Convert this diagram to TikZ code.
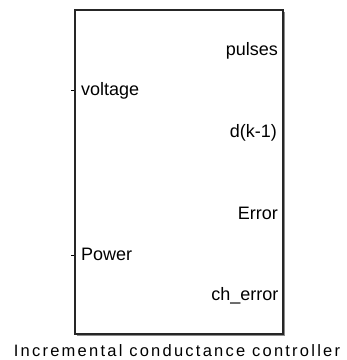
\documentclass[tikz,border=0pt]{standalone}
\usepackage{fontspec}
\setmainfont{Liberation Sans}
\newfontfamily\labfont[LetterSpace=13.6]{Liberation Sans}
\begin{document}
\begin{tikzpicture}[x=1pt,y=-1pt,
  port/.style={font=\fontsize{18}{20}\selectfont, inner sep=0pt},
  blockbox/.style={draw=black!85, line width=1.3pt, minimum width=208pt, minimum height=324pt, inner sep=0pt},
  tick/.style={line width=1pt}]
\useasboundingbox (0,0) rectangle (347,360);
% shadow
\draw[black!45, line width=1pt] (77,335.5) -- (284.5,335.5) -- (284.5,12);
\node[blockbox] (blk) at (179,172) {};
% input ticks
\coordinate (vin) at (71.5,90);
\coordinate (pin) at (71.5,255);
\draw[tick] (vin) -- (vin -| blk.west);
\draw[tick] (pin) -- (pin -| blk.west);
% inputs
\node[port, anchor=base west] (voltage) at (81,95.5) {voltage};
\node[port, anchor=base west] (power) at (81,260) {Power};
% outputs
\node[port, anchor=base east] (pulses) at (278,55.5) {pulses};
\node[port, anchor=base east] (dk) at (277,137.5) {d(k-1)};
\node[port, anchor=base east] (err) at (278,219) {Error};
\node[port, anchor=base east] (cherr) at (278.5,300) {ch\_error};
% label
\node[inner sep=0pt, anchor=base, font=\labfont\fontsize{16.5}{18}\selectfont] (lab) at (177,356) {Incremental conductance controller};
\end{tikzpicture}
\end{document}
